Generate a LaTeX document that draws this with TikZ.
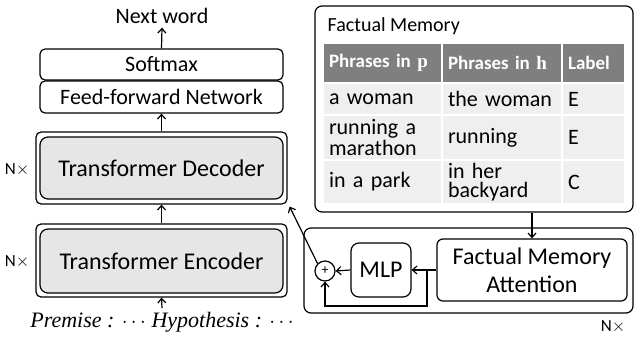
\documentclass[tikz,border=0pt]{standalone}
\usepackage{fontspec}
\setmainfont{Carlito}
\newfontfamily\serifit{Liberation Serif}
\usetikzlibrary{positioning,calc,arrows.meta}
\definecolor{headgray}{HTML}{7F7F7F}
\definecolor{rowgray}{HTML}{EFEFEF}
\definecolor{blockgray}{HTML}{E6E6E6}

\begin{document}
\begin{tikzpicture}[x=1pt,y=-1pt,line width=1.2pt,>={Straight Barb[length=4.5pt,width=8pt]}]
        % Styles
        \tikzstyle{layer}=[draw,rounded corners=5pt,minimum width=243pt,inner sep=0pt,font=\fontsize{22}{24}\selectfont]
        \tikzstyle{stack}=[draw,rounded corners=5pt,minimum width=251pt,inner sep=0pt]
        \tikzstyle{block}=[draw,fill=blockgray,rounded corners=8pt,minimum width=243pt,inner sep=0pt,font=\fontsize{24}{26}\selectfont]
        \tikzstyle{times}=[font=\fontsize{17}{19}\selectfont]
        \tikzstyle{cell}=[fill=rowgray,draw=white,line width=1.5pt,inner xsep=6pt,inner ysep=0pt,align=left,font=\fontsize{22}{19}\selectfont]
        \tikzstyle{head}=[cell,fill=headgray,text=white,font=\fontsize{19}{20}\selectfont\bfseries]
        %the frame
        \useasboundingbox (0,0) rectangle (635,337);
        %left column
        \node (next) at (162,16) {\fontsize{22}{24}\selectfont Next word};
        \node[layer,minimum height=31pt] (soft) at (161.5,64.5) {Softmax};
        \node[layer,minimum height=32pt] (ffn) at (161.5,97) {Feed-forward Network};
        \node[stack,minimum height=72pt] (dec) at (161.5,168) {};
        \node[block,minimum height=62pt] (decin) at (161.5,168) {Transformer Decoder};
        \node[stack,minimum height=73pt] (enc) at (161.5,260.5) {};
        \node[block,minimum height=64pt] (encin) at (161.5,261) {Transformer Encoder};
        \node[times] (ndec) at (17,170) {N$\times$};
        \node[times] (nenc) at (17,262) {N$\times$};
        \node[font=\fontsize{22}{24}\selectfont\serifit\itshape] (prem) at (162,322) {Premise : $\cdots$ Hypothesis : $\cdots$};
        \draw[->] (prem.north) -- (enc.south);
        \draw[->] (enc.north) -- (dec.south);
        \draw[->] (dec.north) -- (ffn.south);
        \draw[->] (soft.north) -- (next.south);
        %factual memory
        \node[draw,rounded corners=7pt,minimum width=318pt,minimum height=206pt,inner sep=0pt] (fm) at (474,109) {};
        \node[anchor=west,font=\fontsize{20}{22}\selectfont,inner sep=0pt] (fmtitle) at (327,26) {Factual Memory};
        \node[head,text width=107pt,minimum height=40pt] (h1) at (382.5,63) {Phrases in {\serifit\bfseries p}};
        \node[head,text width=108pt,minimum height=40pt] (h2) at (502,63) {Phrases in {\serifit\bfseries h}};
        \node[head,text width=51pt,minimum height=40pt] (h3) at (593.5,63) {Label};
        \foreach \y/\h/\a/\b/\c/\n in {99/32/{a woman}/{the woman}/E/1,
                                      137.5/45/{running a\\marathon}/{running}/E/2,
                                      182/44/{in a park}/{in her\\backyard}/C/3}{
            \node[cell,text width=107pt,minimum height=\h pt] (p\n) at (382.5,\y) {\a};
            \node[cell,text width=108pt,minimum height=\h pt] (q\n) at (502,\y) {\b};
            \node[cell,text width=51pt,minimum height=\h pt] (l\n) at (593.5,\y) {\c};
        }
        %attention
        \node[draw,rounded corners=7pt,minimum width=329pt,minimum height=85pt,inner sep=0pt] (att) at (468.5,270.5) {};
        \node[draw,rounded corners=6pt,minimum width=190pt,minimum height=62pt,inner sep=0pt,align=center,font=\fontsize{24}{28}\selectfont] (fma) at (532,270) {Factual Memory\\Attention};
        \node[draw,rounded corners=8pt,minimum width=60pt,minimum height=54pt,inner sep=0pt,font=\fontsize{24}{26}\selectfont] (mlp) at (381,270) {MLP};
        \node[draw,circle,minimum size=20pt,inner sep=0pt,font=\fontsize{14}{14}\selectfont] (plus) at (325,271) {+};
        \node[times] (natt) at (613,327) {N$\times$};
        \coordinate (split) at (427,270);
        \draw[->] (fma.north |- fm.south) -- (fma.north);
        \draw[->] (fma.west) -- (mlp.east);
        \draw[->] (mlp.west) -- (plus.east);
        \draw[->] (split) -- ++(0,36) -| (plus.south);
        \draw[->] (plus.north west) -- ([shift={(2pt,-2pt)}]dec.south east);
\end{tikzpicture}
\end{document}
